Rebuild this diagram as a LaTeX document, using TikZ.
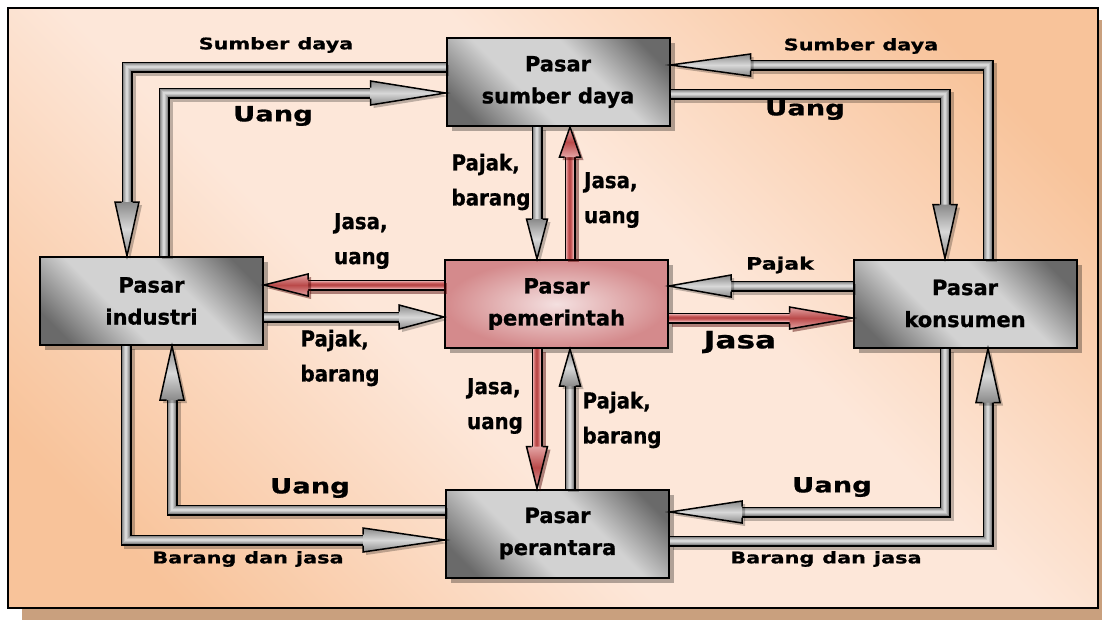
\documentclass[tikz,border=0pt]{standalone}
\usepackage{fontspec}
\newfontfamily\titlefont{DejaVu Sans}[FakeBold=1]
\newfontfamily\widefont{DejaVu Sans}[FakeStretch=1.3, FakeBold=0.8]
\newfontfamily\condfont{DejaVu Sans}[FakeStretch=0.9, FakeBold=0.6]
\usetikzlibrary{calc,shadows}
\definecolor{bgpale}{HTML}{FDE7D9}
\definecolor{bgorange}{HTML}{F8C39A}
\definecolor{frameshadow}{HTML}{C9A07E}
\definecolor{boxdark}{HTML}{6A6A6A}
\definecolor{boxlight}{HTML}{D2D2D2}
\definecolor{pinkdark}{HTML}{D48A8C}
\definecolor{pinklight}{HTML}{F4E0E0}
\definecolor{gc1}{HTML}{8A8A8A}
\definecolor{gc2}{HTML}{A8A8A8}
\definecolor{gc3}{HTML}{C2C2C2}
\definecolor{gc4}{HTML}{D8D8D8}
\definecolor{rc1}{HTML}{E4A4A4}
\definecolor{rc2}{HTML}{D67C7C}
\definecolor{rc3}{HTML}{C85C5C}
\definecolor{rc4}{HTML}{BA4A4A}
\pgfdeclarehorizontalshading{boxsh}{100bp}{color(0bp)=(boxdark); color(22bp)=(boxdark); color(40bp)=(boxlight); color(60bp)=(boxlight); color(78bp)=(boxdark); color(100bp)=(boxdark)}
\pgfdeclarehorizontalshading{bgsh}{100bp}{color(0bp)=(bgorange); color(22bp)=(bgorange); color(42bp)=(bgpale); color(58bp)=(bgpale); color(78bp)=(bgorange); color(100bp)=(bgorange)}
\tikzset{
  box/.style={draw=black, line width=2pt, minimum width=223pt, minimum height=88pt,
    inner sep=0pt, align=center, font={\titlefont\bfseries\fontsize{21}{32}\selectfont},
    drop shadow={shadow xshift=5pt, shadow yshift=-5pt, fill=black, opacity=0.3}},
  graybox/.style={box, shading=boxsh, shading angle=45},
  pinkbox/.style={box, inner color=pinklight, outer color=pinkdark},
  gshadow/.style={black, opacity=0.25},
  rshadow/.style={black!70!red, opacity=0.45},
  ghead/.style={top color=gc1, bottom color=gc1, middle color=gc4},
  rhead/.style={top color=rc1, bottom color=rc1, middle color=rc4},
  lblw/.style={font={\widefont\bfseries\fontsize{16}{18}\selectfont}, inner sep=0pt},
  lblu/.style={font={\widefont\bfseries\fontsize{21}{24}\selectfont}, inner sep=0pt},
  lblm/.style={font={\condfont\bfseries\fontsize{22}{35}\selectfont}, inner sep=0pt, align=left},
  lblj/.style={font={\widefont\bfseries\fontsize{24}{28}\selectfont}, inner sep=0pt},
  lblp/.style={font={\widefont\bfseries\fontsize{17}{20}\selectfont}, inner sep=0pt},
}
\newcommand\shaftpath[2]{%
  \draw[#1shadow, line width=11pt, line join=miter, transform canvas={shift={(3pt,-3pt)}}] #2;
  \draw[black, line width=11pt, line join=miter] #2;
  \draw[#1c1, line width=8pt, line join=miter] #2;
  \draw[#1c2, line width=6pt, line join=miter] #2;
  \draw[#1c3, line width=4pt, line join=miter] #2;
  \draw[#1c4, line width=2pt, line join=miter] #2;
}
\newcommand\arrhead[5]{%
  \begin{scope}[shift={($(#2)+(3,3)$)}, rotate=#3]
    \fill[#1shadow] (0,0) -- (-#4,#5) -- (-#4,-#5) -- cycle;
  \end{scope}
  \begin{scope}[shift={(#2)}, rotate=#3]
    \path[#1head] (0,0) -- (-#4,#5) -- (-#4,-#5) -- cycle;
    \draw[black, line width=1.5pt, line join=miter] (-#4,5.5) -- (-#4,#5) -- (0,0) -- (-#4,-#5) -- (-#4,-5.5);
  \end{scope}
}
\begin{document}
\begin{tikzpicture}[x=1pt, y=-1pt]
\path[use as bounding box, clip] (0,0) rectangle (1102,619);
\fill[frameshadow] (22,20) rectangle (1115,625);
\shade[shading=bgsh, shading angle=45] (8,8) rectangle (1098,608);
\draw[black, line width=2pt] (8,8) rectangle (1098,608);

% boxes
\node[graybox] (sd) at (558,82) {Pasar\\sumber daya};
\node[graybox] (ind) at (151.5,301) {Pasar\\industri};
\node[pinkbox] (pem) at (556.5,304) {Pasar\\pemerintah};
\node[graybox] (kon) at (965,303.5) {Pasar\\konsumen};
\node[graybox] (per) at (557.5,533.5) {Pasar\\perantara};

% tips
\coordinate (t1) at (127,0 |- ind.north);
\coordinate (t2) at (sd.west |- 0,93);
\coordinate (t3) at (sd.east |- 0,65);
\coordinate (t4) at (945,0 |- kon.north);
\coordinate (t5) at (172,0 |- ind.south);
\coordinate (t6) at (per.west |- 0,540);
\coordinate (t7) at (per.east |- 0,512);
\coordinate (t8) at (988,0 |- kon.south);
\coordinate (t9) at (537,0 |- pem.north);
\coordinate (t10) at (570,0 |- sd.south);
\coordinate (t11) at (ind.east |- 0,285);
\coordinate (t12) at (pem.west |- 0,317);
\coordinate (t13) at (pem.east |- 0,286);
\coordinate (t14) at (kon.west |- 0,318);
\coordinate (t15) at (537,0 |- per.north);
\coordinate (t16) at (570,0 |- pem.south);

% outer arrows
\shaftpath{g}{(sd.west |- 0,67) -- (127,67) -- ($(t1)+(0,-53)$)}
\arrhead{g}{t1}{-90}{54}{12}
\shaftpath{g}{(164,0 |- ind.north) -- (164,93) -- ($(t2)+(-74,0)$)}
\arrhead{g}{t2}{0}{75}{12}
\shaftpath{g}{(988,0 |- kon.north) -- (988,65) -- ($(t3)+(79,0)$)}
\arrhead{g}{t3}{180}{80}{11}
\shaftpath{g}{(sd.east |- 0,94) -- (945,94) -- ($(t4)+(0,-53)$)}
\arrhead{g}{t4}{-90}{54}{12}
\shaftpath{g}{(per.west |- 0,510) -- (172,510) -- ($(t5)+(0,53)$)}
\arrhead{g}{t5}{90}{54}{12}
\shaftpath{g}{(126,0 |- ind.south) -- (126,540) -- ($(t6)+(-81,0)$)}
\arrhead{g}{t6}{0}{82}{12}
\shaftpath{g}{(945,0 |- kon.south) -- (945,512) -- ($(t7)+(71,0)$)}
\arrhead{g}{t7}{180}{72}{11}
\shaftpath{g}{(per.east |- 0,541) -- (988,541) -- ($(t8)+(0,53)$)}
\arrhead{g}{t8}{90}{54}{12}

% middle arrows
\shaftpath{g}{(537,0 |- sd.south) -- ($(t9)+(0,-39)$)}
\arrhead{g}{t9}{-90}{40}{10.5}
\shaftpath{r}{(570,0 |- pem.north) -- ($(t10)+(0,29)$)}
\arrhead{r}{t10}{90}{30}{10.5}
\shaftpath{r}{(pem.west |- 0,285) -- ($(t11)+(43,0)$)}
\arrhead{r}{t11}{180}{44}{11}
\shaftpath{g}{(ind.east |- 0,317) -- ($(t12)+(-44,0)$)}
\arrhead{g}{t12}{0}{45}{12}
\shaftpath{g}{(kon.west |- 0,286) -- ($(t13)+(61,0)$)}
\arrhead{g}{t13}{180}{62}{11}
\shaftpath{r}{(pem.east |- 0,318) -- ($(t14)+(-62,0)$)}
\arrhead{r}{t14}{0}{63}{11}
\shaftpath{r}{(537,0 |- pem.south) -- ($(t15)+(0,-41)$)}
\arrhead{r}{t15}{-90}{42}{10.5}
\shaftpath{g}{(570,0 |- per.north) -- ($(t16)+(0,36)$)}
\arrhead{g}{t16}{90}{37}{10.5}

% labels
\node[lblw] (l1) at (276,45) {Sumber\hspace{8pt}daya};
\node[lblu] (l2) at (273,116) {Uang};
\node[lblw] (l3) at (861,46) {Sumber\hspace{8pt}daya};
\node[lblu] (l4) at (805,110) {Uang};
\node[lblu] (l5) at (310,488) {Uang};
\node[lblw] (l6) at (248,559) {Barang\hspace{8pt}dan\hspace{8pt}jasa};
\node[lblu] (l7) at (832,487) {Uang};
\node[lblw] (l8) at (826,559) {Barang\hspace{8pt}dan\hspace{8pt}jasa};
\node[lblm] (l9) at (491,182) {Pajak,\\barang};
\node[lblm] (l10) at (612,200) {Jasa,\\uang};
\node[lblm] (l11) at (362,241) {Jasa,\\uang};
\node[lblm] (l12) at (340,358) {Pajak,\\barang};
\node[lblm] (l13) at (495,406) {Jasa,\\uang};
\node[lblm] (l14) at (622,420) {Pajak,\\barang};
\node[lblp] (l15) at (780,265) {Pajak};
\node[lblj] (l16) at (740,342) {Jasa};
\end{tikzpicture}
\end{document}
